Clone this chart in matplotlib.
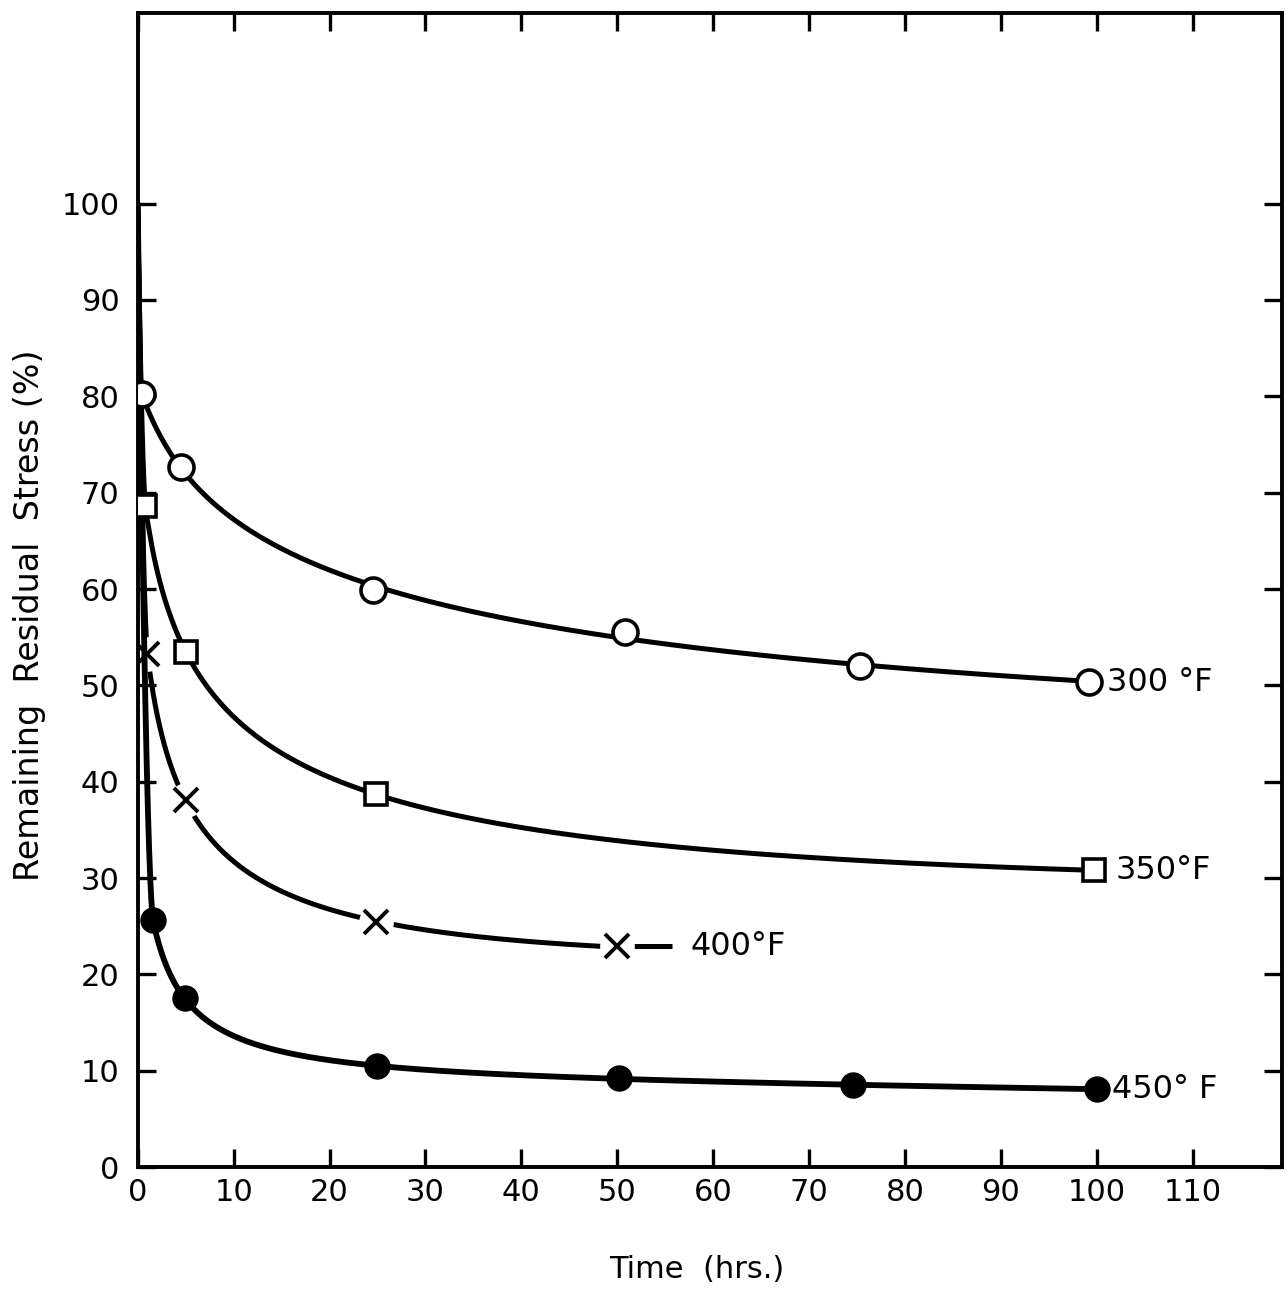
import numpy as np
import matplotlib
matplotlib.use("Agg")
import matplotlib.pyplot as plt

# Stress relief of residual stress at four ageing temperatures
t_start, s_start = 0.0, 100.0   # every curve starts from full stress at t = 0

t_300 = [0.4, 4.5, 24.5, 50.8, 75.3, 99.2]
s_300 = [80.2, 72.7, 59.9, 55.5, 52.0, 50.3]

t_350 = [0.8, 5.0, 24.8, 99.7]
s_350 = [68.6, 53.5, 38.7, 30.8]

t_400 = [1.0, 5.0, 24.8, 50.0]
s_400 = [53.3, 38.1, 25.4, 22.9]

t_450 = [1.6, 4.9, 24.9, 50.2, 74.6, 100.0]
s_450 = [25.6, 17.5, 10.5, 9.2, 8.5, 8.1]

labels = ["300 °F", "350°F", "400°F", "450° F"]

x_ticks = list(range(0, 111, 10))
y_ticks = list(range(0, 101, 10))


def pchip(x, y, xn):
    """Shape-preserving piecewise cubic Hermite interpolation."""
    x = np.asarray(x, float)
    y = np.asarray(y, float)
    h = np.diff(x)
    d = np.diff(y) / h
    n = len(x)
    m = np.zeros(n)
    for k in range(1, n - 1):
        if d[k - 1] * d[k] > 0:
            w1 = 2 * h[k] + h[k - 1]
            w2 = h[k] + 2 * h[k - 1]
            m[k] = (w1 + w2) / (w1 / d[k - 1] + w2 / d[k])

    def end(h0, h1, d0, d1):
        v = ((2 * h0 + h1) * d0 - h0 * d1) / (h0 + h1)
        if np.sign(v) != np.sign(d0):
            v = 0.0
        elif np.sign(d0) != np.sign(d1) and abs(v) > abs(3 * d0):
            v = 3 * d0
        return v

    m[0] = end(h[0], h[1], d[0], d[1])
    m[-1] = end(h[-1], h[-2], d[-1], d[-2])
    idx = np.clip(np.searchsorted(x, xn) - 1, 0, n - 2)
    hh = h[idx]
    s = (xn - x[idx]) / hh
    h00 = 2 * s**3 - 3 * s**2 + 1
    h10 = s**3 - 2 * s**2 + s
    h01 = -2 * s**3 + 3 * s**2
    h11 = s**3 - s**2
    return h00 * y[idx] + h10 * hh * m[idx] + h01 * y[idx + 1] + h11 * hh * m[idx + 1]


def smooth_curve(t, s, deg=2):
    """Fair curve: least-squares polynomial in ln(1 + t) over the measured
    points, joined by a shape-preserving spline to the start value."""
    t = np.asarray(t, float)
    s = np.asarray(s, float)
    coef = np.polyfit(np.log1p(t), s, deg)
    tg = np.linspace(np.sqrt(t[0]), np.sqrt(t[-1]), 60) ** 2
    sg = np.polyval(coef, np.log1p(tg))
    kt = np.concatenate([[t_start], tg])
    ks = np.concatenate([[s_start], sg])
    tn = np.linspace(0.0, np.sqrt(t[-1]), 900) ** 2
    return tn, pchip(kt, ks, tn)


fig = plt.figure(figsize=(12.87, 12.90), dpi=100)
ax = fig.add_axes([0.107, 0.0953, 0.889, 0.8947])

lw = 3.6
fs = 22

# 300 °F  — open circles
x, y = smooth_curve(t_300, s_300, 3)
ax.plot(x, y, color="black", lw=lw, zorder=3, solid_capstyle="round")
ax.plot(t_300, s_300, "o", ms=18, mfc="white", mec="black", mew=2.6, zorder=5)

# 350 °F  — open squares
x, y = smooth_curve(t_350, s_350, 3)
ax.plot(x, y, color="black", lw=lw, zorder=3, solid_capstyle="round")
ax.plot(t_350, s_350, "s", ms=16, mfc="white", mec="black", mew=2.6, zorder=5)

# 400 °F  — crosses, the line broken around each mark
x, y = smooth_curve(t_400, s_400, 2)
ax.plot(x, y, color="black", lw=lw, zorder=2, solid_capstyle="round")
ax.plot([t_400[-1], t_400[-1] + 5.7], [s_400[-1], s_400[-1]],
        color="black", lw=lw, zorder=2, solid_capstyle="butt")
ax.plot(t_400, s_400, "o", ms=25, mfc="white", mec="none", zorder=2.5)
ax.plot(t_400, s_400, "x", ms=17, mec="black", mew=2.8, zorder=5)

# 450 °F  — filled circles
x, y = smooth_curve(t_450, s_450, 3)
ax.plot(x, y, color="black", lw=lw + 0.6, zorder=3, solid_capstyle="round")
ax.plot(t_450, s_450, "o", ms=18, mfc="black", mec="black", zorder=5)

# Curve labels
ax.text(t_300[-1] + 1.9, s_300[-1], labels[0], fontsize=fs + 1, va="center", ha="left")
ax.text(t_350[-1] + 2.3, s_350[-1], labels[1], fontsize=fs + 1, va="center", ha="left")
ax.text(t_400[-1] + 7.6, s_400[-1], labels[2], fontsize=fs + 1, va="center", ha="left")
ax.text(t_450[-1] + 1.6, s_450[-1], labels[3], fontsize=fs + 1, va="center", ha="left")

ax.set_xlim(0, 119.3)
ax.set_ylim(0, 119.8)
ax.set_xticks(x_ticks)
ax.set_yticks(y_ticks)
ax.set_xticklabels([str(v) for v in x_ticks])
ax.set_yticklabels([str(v) for v in y_ticks])
ax.tick_params(axis="both", which="major", direction="in", length=13, width=2.4,
               labelsize=fs, top=True, right=True, color="black")
ax.tick_params(axis="y", pad=13)
ax.tick_params(axis="x", pad=8)
for sp in ax.spines.values():
    sp.set_linewidth(2.8)

ax.set_xlabel("Time  (hrs.)", fontsize=fs)
ax.set_ylabel("Remaining  Residual  Stress (%)", fontsize=24)
ax.xaxis.set_label_coords(0.489, -0.076)
ax.yaxis.set_label_coords(-0.080, 0.478)

fig.savefig("out.png", dpi=100, facecolor="white")
